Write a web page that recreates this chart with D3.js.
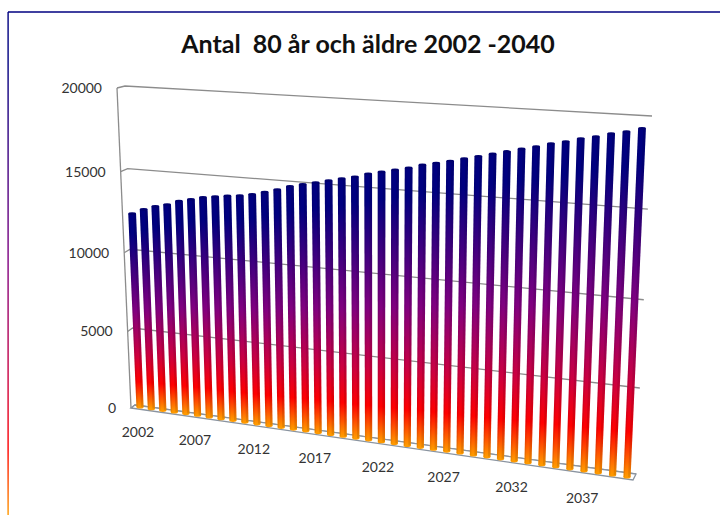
<!DOCTYPE html>
<html>
<head>
<meta charset="utf-8">
<script src="https://cdn.jsdelivr.net/npm/d3@7"></script>
<style>
    html, body { margin: 0; padding: 0; background: #fff; }
    svg { display: block; }
    text { font-family: Lato, "Open Sans", sans-serif; }
</style>
</head>
<body>
<div id="chart"></div>
<script>
const years = d3.range(2002, 2041);
const antal = [12330, 12670, 12910, 13090, 13360, 13530, 13710, 13820, 13930, 14010,
    14150, 14340, 14550, 14810, 14980, 15150, 15320, 15490, 15660, 15890,
    16060, 16230, 16400, 16620, 16780, 16950, 17140, 17325, 17510, 17700,
    17890, 18070, 18290, 18450, 18660, 18810, 19030, 19180, 19400];
const yTicks = [0, 5000, 10000, 15000, 20000];
const yearTicks = [2002, 2007, 2012, 2017, 2022, 2027, 2032, 2037];
const title = "Antal  80 år och äldre 2002 -2040";

const width = 720, height = 515;

// the old chart is a tilted 3D one, so everything goes through a perspective map of the unit square
function perspective(p00, p10, p11, p01) {
    const dx1 = p10[0] - p11[0], dx2 = p01[0] - p11[0], sx = p00[0] - p10[0] + p11[0] - p01[0];
    const dy1 = p10[1] - p11[1], dy2 = p01[1] - p11[1], sy = p00[1] - p10[1] + p11[1] - p01[1];
    const det = dx1 * dy2 - dx2 * dy1;
    const g = (sx * dy2 - dx2 * sy) / det;
    const h = (dx1 * sy - sx * dy1) / det;
    const a = p10[0] - p00[0] + g * p10[0], b = p01[0] - p00[0] + h * p01[0], c = p00[0];
    const d = p10[1] - p00[1] + g * p10[1], e = p01[1] - p00[1] + h * p01[1], f = p00[1];
    return (u, v) => {
        const w = g * u + h * v + 1;
        return [(a * u + b * v + c) / w, (d * u + e * v + f) / w];
    };
}

const xScale = d3.scaleLinear().domain([2002, 2040]).range([0, 1]);
const yScale = d3.scaleLinear().domain([0, 20000]).range([0, 1]);

const wall = perspective([135, 405], [636, 474], [652, 116], [125, 86]);
const side = perspective([131, 408], [633, 480], [652, 116], [117, 88]);
const barPlane = perspective([140, 407], [627, 477], [642.5, 117], [127, 87]);

const svg = d3.select("#chart").append("svg")
    .attr("width", width)
    .attr("height", height);

const defs = svg.append("defs");

function addGradient(id, stops, attrs) {
    const grad = defs.append("linearGradient").attr("id", id)
        .attr("x1", 0).attr("y1", 0).attr("x2", 0).attr("y2", 1);
    Object.entries(attrs || {}).forEach(([k, val]) => grad.attr(k, val));
    stops.forEach(s => grad.append("stop").attr("offset", s[0]).attr("stop-color", s[1]));
}

const barStops = [[0, "#000080"], [0.1, "#000080"], [0.5, "#800080"], [0.73, "#cc0040"], [0.87, "#ff0000"], [1, "#ff9a00"]];
addGradient("barFill", barStops);
addGradient("edgeFill", barStops, {gradientUnits: "userSpaceOnUse", x1: 0, y1: 12, x2: 0, y2: 515});

// frame
svg.append("line").attr("x1", 8).attr("y1", 12).attr("x2", width).attr("y2", 12)
    .attr("stroke", "#000080").attr("stroke-width", 1.6);
svg.append("rect").attr("x", 7.4).attr("y", 12).attr("width", 1.4).attr("height", height - 12)
    .attr("fill", "url(#edgeFill)");

svg.append("text")
    .attr("x", 368)
    .attr("y", 53)
    .attr("text-anchor", "middle")
    .attr("font-size", 25)
    .attr("font-weight", 700)
    .attr("fill", "#111")
    .style("white-space", "pre")
    .text(title);

// walls and gridlines
const gridColor = "#8c8c8c";
const grid = svg.append("g").attr("fill", "none").attr("stroke", gridColor).attr("stroke-width", 1.3);
const line = d3.line();

yTicks.forEach(t => {
    const v = yScale(t);
    grid.append("path").attr("d", line([side(0, v), wall(0, v), wall(1, v)]));
});
grid.append("path").attr("d", line([side(0, 0), side(0, 1)]));

// floor
svg.append("path")
    .attr("d", line([side(0, 0), side(1, 0), wall(1, 0), wall(0, 0)]) + "Z")
    .attr("fill", "#fff")
    .attr("stroke", "#8a94a0")
    .attr("stroke-width", 1.3);

// bars
const wTop = 7.8, wBot = 7.2;

function strip(year, value, from, to) {
    const u = xScale(year), v = yScale(value);
    const b = barPlane(u, 0), t = barPlane(u, v);
    return line([
        [t[0] + from * wTop, t[1]],
        [t[0] + to * wTop, t[1]],
        [b[0] + to * wBot, b[1]],
        [b[0] + from * wBot, b[1]]
    ]) + "Z";
}

const bars = svg.append("g").selectAll("g")
    .data(years)
    .enter()
    .append("g");

// rounded foot of the cylinder
bars.append("ellipse")
    .attr("cx", d => barPlane(xScale(d), 0)[0])
    .attr("cy", d => barPlane(xScale(d), 0)[1])
    .attr("rx", wBot / 2)
    .attr("ry", 1.6)
    .attr("fill", "#ff9a00");

bars.append("path")
    .attr("d", (d, i) => strip(d, antal[i], -0.5, 0.5))
    .attr("fill", "url(#barFill)");

bars.append("path")
    .attr("d", (d, i) => strip(d, antal[i], 0.15, 0.5))
    .attr("fill", "#000")
    .attr("fill-opacity", 0.1);

bars.append("path")
    .attr("d", (d, i) => strip(d, antal[i], -0.5, -0.3))
    .attr("fill", "#000")
    .attr("fill-opacity", 0.08);

// top cap
bars.append("ellipse")
    .attr("cx", (d, i) => barPlane(xScale(d), yScale(antal[i]))[0])
    .attr("cy", (d, i) => barPlane(xScale(d), yScale(antal[i]))[1])
    .attr("rx", wTop / 2)
    .attr("ry", 1.4)
    .attr("fill", "#00006e");

// axis labels
const labelColor = "#333";

svg.append("g").selectAll("text")
    .data(yTicks)
    .enter()
    .append("text")
    .attr("x", d => side(0, yScale(d))[0] - 15)
    .attr("y", d => side(0, yScale(d))[1] + 5)
    .attr("text-anchor", "end")
    .attr("font-size", 14)
    .attr("fill", labelColor)
    .text(d => d);

const labelShift = d3.scaleLinear().domain([2002, 2037]).range([7, -6]);

svg.append("g").selectAll("text")
    .data(yearTicks)
    .enter()
    .append("text")
    .attr("x", d => side(xScale(d), 0)[0] + labelShift(d))
    .attr("y", d => side(xScale(d), 0)[1] + 29)
    .attr("text-anchor", "middle")
    .attr("font-size", 14)
    .attr("fill", labelColor)
    .text(d => d);
</script>
</body>
</html>
